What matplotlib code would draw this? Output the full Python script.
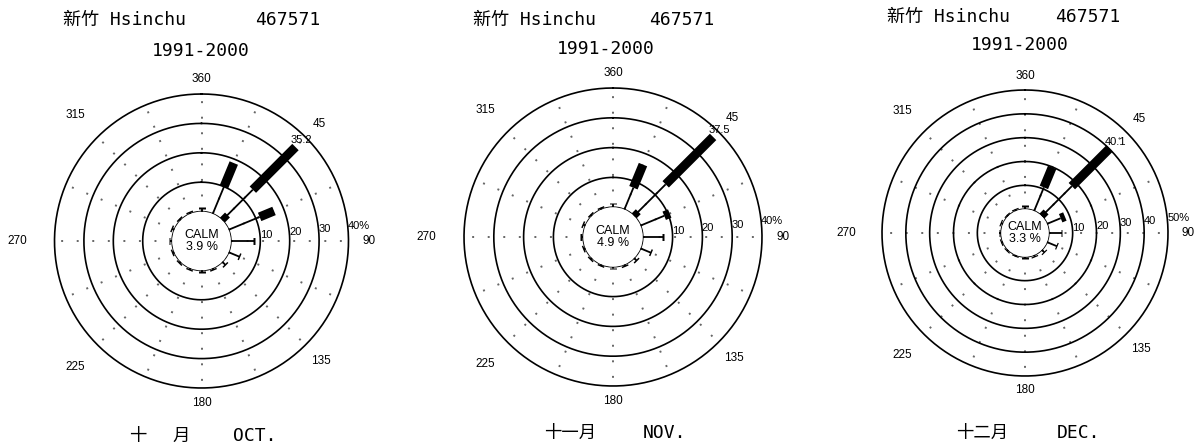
import numpy as np
import matplotlib
matplotlib.use('Agg')
import matplotlib.pyplot as plt

# 16 directions, N clockwise (percent of time)
directions = np.arange(0, 360, 22.5)
angle_labels = ['360', '45', '90', '135', '180', '225', '270', '315']
angle_ticks = [0, 45, 90, 135, 180, 225, 270, 315]

station = '新竹 Hsinchu'
station_id = '467571'
period = '1991-2000'

# October
oct_total = [1.3, 18.7, 35.2, 16.7, 7.8, 4.0, 1.5, 0.6, 0.5, 0.6, 0.6, 0.6, 0.8, 0.8, 0.5, 0.5]
oct_base = [0, 0, 2.5, 0, 0, 0, 0, 0, 0, 0, 0, 0, 0, 0, 0, 0]
oct_heavy = [0, 8.8, 20.5, 5.3, 0, 0, 0, 0, 0, 0, 0, 0, 0, 0, 0, 0]
oct_calm = 3.9

# November
nov_total = [1.2, 16.3, 37.5, 10.6, 6.8, 3.8, 1.2, 0.6, 0.5, 0.5, 0.6, 0.6, 0.8, 0.8, 0.5, 0.5]
nov_base = [0, 0, 2.0, 0, 0, 0, 0, 0, 0, 0, 0, 0, 0, 0, 0, 0]
nov_heavy = [0, 8.4, 22.5, 2.0, 0, 0, 0, 0, 0, 0, 0, 0, 0, 0, 0, 0]
nov_calm = 4.9

# December
dec_total = [1.3, 19.8, 40.1, 8.1, 5.4, 4.5, 1.5, 0.8, 0.5, 0.5, 0.6, 0.6, 0.8, 0.8, 0.5, 0.6]
dec_base = [0, 0, 2.5, 0, 0, 0, 0, 0, 0, 0, 0, 0, 0, 0, 0, 0]
dec_heavy = [0, 9.1, 22.3, 1.9, 0, 0, 0, 0, 0, 0, 0, 0, 0, 0, 0, 0]
dec_calm = 3.3

W, H = 1200, 448
fig = plt.figure(figsize=(12, 4.48), dpi=100)

mono = ['DejaVu Sans Mono', 'Noto Sans CJK TC']
cjk = ['Noto Sans CJK TC', 'DejaVu Sans']
sans = 'Liberation Sans'


def px(x, y):
    return x / W, 1 - y / H


def rose(cx, cy, R, rmax, total, base, heavy, calm):
    ax = fig.add_axes([(cx - R) / W, 1 - (cy + R) / H, 2 * R / W, 2 * R / H],
                      projection='polar')
    ax.set_theta_zero_location('N')
    ax.set_theta_direction(-1)
    ax.set_rorigin(-10)
    ax.set_ylim(0, rmax)
    ax.axis('off')

    tt = np.linspace(0, 2 * np.pi, 400)
    th = np.deg2rad(directions)

    # dotted radial guides
    for t in th:
        ax.plot([t, t], [0, rmax], ls=(0, (1, 7)), color='0.4', lw=1.4, clip_on=False)

    # rings + calm circle
    for rv in range(10, rmax + 1, 10):
        ax.plot(tt, np.full_like(tt, rv), color='k', lw=1.2, clip_on=False)
    ax.plot(tt, np.zeros_like(tt), color='k', lw=1.2)

    # spokes
    for t, tot, b, h in zip(th, total, base, heavy):
        thin_end = tot - h
        if b:
            ax.plot([t, t], [0, b], color='k', lw=5, solid_capstyle='butt')
        ax.plot([t, t], [0, thin_end], color='k', lw=1.3, solid_capstyle='butt')
        if h:
            ax.plot([t, t], [thin_end, tot], color='k', lw=6.5, solid_capstyle='butt')
        else:
            ax.plot([t, t], [tot - 0.25, tot + 0.25], color='k', lw=5,
                    solid_capstyle='butt')

    # peak value
    i = int(np.argmax(total))
    ax.annotate(f'{total[i]:.1f}', xy=(th[i], total[i]), xytext=(-5, 7),
                textcoords='offset pixels', ha='left', va='center',
                fontsize=8, family=sans)

    # ring labels
    for rv in range(10, rmax + 1, 10):
        s = f'{rv}%' if rv == rmax else f'{rv}'
        ax.text(np.deg2rad(84), rv, s, ha='left', va='center', fontsize=8,
                family=sans)

    # direction labels
    factors = [1.10, 1.13, 1.14, 1.15, 1.10, 1.21, 1.25, 1.21]
    for a, lab, f in zip(angle_ticks, angle_labels, factors):
        ax.text(np.deg2rad(a), f * (rmax + 10) - 10, lab, ha='center', va='center',
                fontsize=8.5, family=sans)

    ax.text(0.5, 0.5, f'CALM\n{calm} %', transform=ax.transAxes, ha='center',
            va='center', fontsize=9, family=sans, linespacing=1.05)
    return ax


rose(201.5, 241, 147, 40, oct_total, oct_base, oct_heavy, oct_calm)
rose(613, 237, 149, 40, nov_total, nov_base, nov_heavy, nov_calm)
rose(1025, 233, 143, 50, dec_total, dec_base, dec_heavy, dec_calm)

# headers
heads = [(63, 20, 288, 51, 201), (473, 20, 682, 49, 606), (887, 17, 1088, 45, 1020)]
for sx, sy, ix, py, pcx in heads:
    fig.text(*px(sx, sy), station, ha='left', va='center', fontsize=13, family=mono)
    fig.text(*px(ix, sy), station_id, ha='center', va='center', fontsize=13, family=mono)
    fig.text(*px(pcx, py), period, ha='center', va='center', fontsize=13, family=mono)

# month captions
fig.text(*px(138, 436), '十', ha='center', va='center', fontsize=12.5, family=cjk)
fig.text(*px(181, 436), '月', ha='center', va='center', fontsize=12.5, family=cjk)
fig.text(*px(255, 436), 'OCT.', ha='center', va='center', fontsize=13, family=mono)
fig.text(*px(570, 433), '十一月', ha='center', va='center', fontsize=12.5, family=cjk)
fig.text(*px(665, 433), 'NOV.', ha='center', va='center', fontsize=13, family=mono)
fig.text(*px(982, 433), '十二月', ha='center', va='center', fontsize=12.5, family=cjk)
fig.text(*px(1078, 433), 'DEC.', ha='center', va='center', fontsize=13, family=mono)

fig.savefig('out.png', dpi=100)
